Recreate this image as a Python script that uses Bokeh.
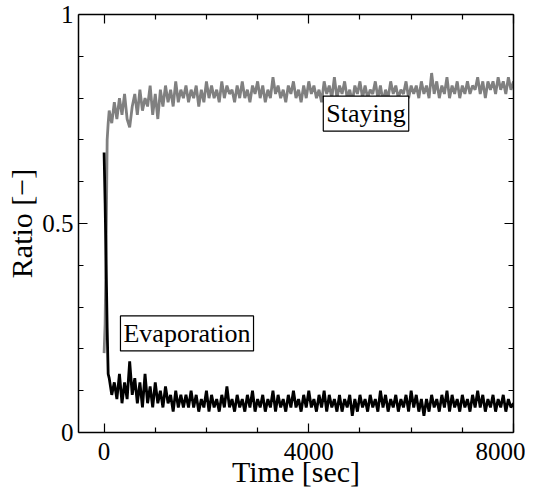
from bokeh.plotting import figure
from bokeh.models import Range1d, LinearAxis, FixedTicker, Label
from bokeh.embed import file_html
from bokeh.resources import INLINE

# ---- data ----
time_early = [0, 20, 40, 60, 80]
time_main = list(range(100, 8001, 50))
time = time_early + time_main

staying = [0.19, 0.26, 0.45, 0.70, 0.74,
    0.77, 0.74, 0.79, 0.75, 0.80, 0.76, 0.81, 0.75, 0.73, 0.78,
    0.81, 0.76, 0.82, 0.77, 0.80, 0.78, 0.83, 0.76, 0.81, 0.75,
    0.82, 0.78, 0.83, 0.79, 0.82, 0.78, 0.84, 0.79, 0.82, 0.80,
    0.83, 0.79, 0.82, 0.80, 0.83, 0.78, 0.82, 0.79, 0.84, 0.80,
    0.83, 0.80, 0.82, 0.79, 0.84, 0.80, 0.83, 0.81, 0.82, 0.79,
    0.83, 0.80, 0.84, 0.80, 0.82, 0.79, 0.83, 0.81, 0.84, 0.80,
    0.83, 0.79, 0.82, 0.80, 0.85, 0.81, 0.83, 0.80, 0.82, 0.79,
    0.83, 0.81, 0.84, 0.80, 0.82, 0.79, 0.83, 0.80, 0.84, 0.81,
    0.83, 0.80, 0.82, 0.79, 0.84, 0.81, 0.83, 0.80, 0.85, 0.80,
    0.83, 0.81, 0.84, 0.80, 0.82, 0.79, 0.83, 0.81, 0.84, 0.80,
    0.83, 0.80, 0.82, 0.81, 0.84, 0.80, 0.83, 0.79, 0.82, 0.80,
    0.84, 0.81, 0.83, 0.80, 0.82, 0.81, 0.84, 0.80, 0.83, 0.81,
    0.83, 0.80, 0.84, 0.81, 0.83, 0.80, 0.86, 0.81, 0.84, 0.80,
    0.83, 0.81, 0.85, 0.80, 0.83, 0.81, 0.84, 0.80, 0.83, 0.81,
    0.84, 0.81, 0.83, 0.82, 0.85, 0.81, 0.84, 0.80, 0.84, 0.82,
    0.84, 0.81, 0.85, 0.82, 0.84, 0.81, 0.85, 0.82, 0.84]

evaporation = [0.67, 0.55, 0.40, 0.25, 0.14,
    0.13, 0.09, 0.12, 0.08, 0.14, 0.07, 0.12, 0.08, 0.17, 0.09,
    0.13, 0.07, 0.12, 0.06, 0.14, 0.07, 0.11, 0.06, 0.12, 0.07,
    0.10, 0.06, 0.11, 0.07, 0.09, 0.05, 0.10, 0.06, 0.09, 0.06,
    0.09, 0.06, 0.10, 0.06, 0.09, 0.05, 0.08, 0.06, 0.10, 0.05,
    0.09, 0.06, 0.08, 0.05, 0.09, 0.06, 0.11, 0.06, 0.08, 0.05,
    0.09, 0.06, 0.08, 0.05, 0.09, 0.06, 0.10, 0.05, 0.08, 0.06,
    0.09, 0.05, 0.08, 0.06, 0.10, 0.05, 0.09, 0.06, 0.08, 0.05,
    0.09, 0.06, 0.10, 0.06, 0.08, 0.05, 0.09, 0.06, 0.10, 0.06,
    0.08, 0.05, 0.09, 0.06, 0.10, 0.05, 0.09, 0.06, 0.08, 0.05,
    0.09, 0.05, 0.08, 0.06, 0.09, 0.04, 0.08, 0.05, 0.09, 0.06,
    0.08, 0.05, 0.09, 0.06, 0.08, 0.05, 0.10, 0.06, 0.09, 0.05,
    0.08, 0.06, 0.09, 0.05, 0.08, 0.06, 0.09, 0.05, 0.10, 0.06,
    0.09, 0.05, 0.08, 0.04, 0.08, 0.05, 0.09, 0.06, 0.08, 0.05,
    0.09, 0.06, 0.10, 0.05, 0.09, 0.06, 0.08, 0.05, 0.09, 0.06,
    0.08, 0.05, 0.09, 0.06, 0.10, 0.06, 0.09, 0.05, 0.08, 0.06,
    0.09, 0.05, 0.08, 0.06, 0.09, 0.05, 0.08, 0.06, 0.07]

x_major = [0, 4000, 8000]
x_minor = [1000, 2000, 3000, 5000, 6000, 7000]
y_major = [0, 0.5, 1]
y_minor = [0.1, 0.2, 0.3, 0.4, 0.6, 0.7, 0.8, 0.9]

FONT = "Liberation Serif"

p = figure(width=525, height=490, output_backend="svg", toolbar_location=None,
           x_range=Range1d(-500, 8000), y_range=Range1d(0, 1),
           min_border_left=78, min_border_right=12, min_border_top=14,
           min_border_bottom=57, x_axis_label="Time [sec]", y_axis_label="Ratio [\u2212]")
p.grid.visible = False
p.outline_line_color = None

p.line(time, staying, line_color="#808080", line_width=2.8)
p.line(time, evaporation, line_color="black", line_width=2.8)

xt = FixedTicker(ticks=x_major, minor_ticks=x_minor)
yt = FixedTicker(ticks=y_major, minor_ticks=y_minor)

def style(ax, ticker, show_labels):
    ax.ticker = ticker
    ax.axis_line_color = "black"
    ax.axis_line_width = 1.5
    ax.major_tick_in = 9
    ax.major_tick_out = 0
    ax.minor_tick_in = 5
    ax.minor_tick_out = 0
    ax.major_tick_line_color = "black"
    ax.minor_tick_line_color = "black"
    ax.major_tick_line_width = 1.2
    ax.minor_tick_line_width = 1.2
    ax.major_label_text_font = FONT
    ax.major_label_text_font_size = "25px" if show_labels else "0px"
    ax.major_label_text_color = "black"
    ax.axis_label_text_font = FONT
    ax.axis_label_text_font_size = "30px" if show_labels else "0px"
    ax.axis_label_text_font_style = "normal"
    ax.axis_label_text_color = "black"
    if not show_labels:
        ax.major_label_standoff = 0
        ax.axis_label_standoff = 0

style(p.xaxis[0], xt, True)
style(p.yaxis[0], yt, True)
p.xaxis[0].major_label_standoff = 10
p.xaxis[0].axis_label_standoff = -8
p.yaxis[0].major_label_standoff = 5
p.yaxis[0].axis_label_standoff = 1

top = LinearAxis()
style(top, xt, False)
p.add_layout(top, "above")
right = LinearAxis()
style(right, yt, False)
p.add_layout(right, "right")

for txt, xx, yy in [("Staying", 5118, 0.763), ("Evaporation", 1620, 0.237)]:
    p.add_layout(Label(x=xx, y=yy, text=txt, text_font=FONT, text_font_size="26px",
                       text_align="center", text_baseline="middle", text_color="black",
                       background_fill_color="white", border_line_color="black",
                       border_line_width=1.2, padding=3))

open("out.html", "w").write(file_html(p, INLINE))
